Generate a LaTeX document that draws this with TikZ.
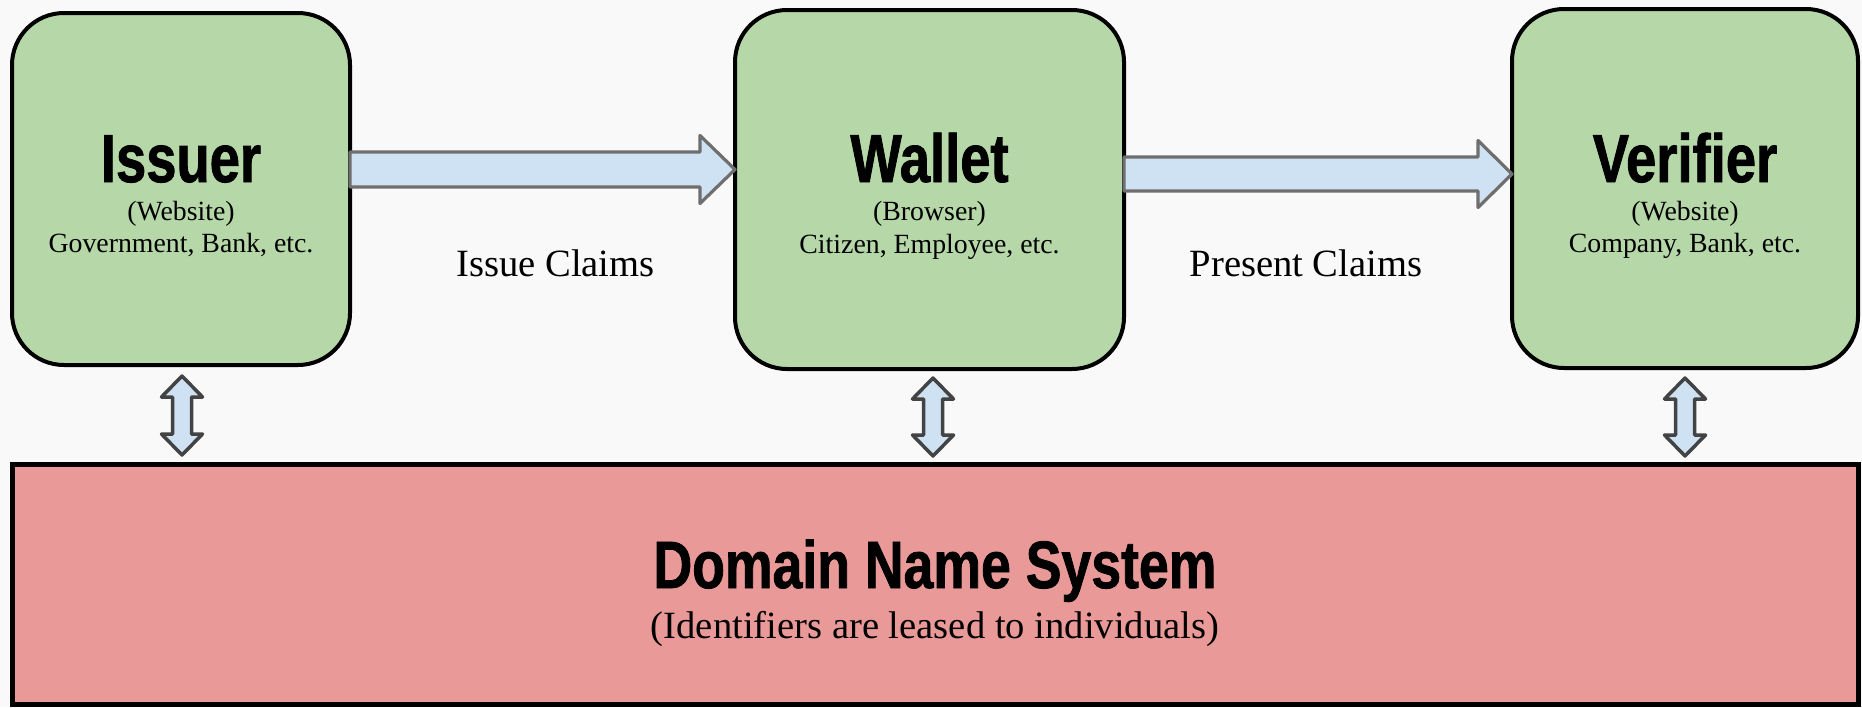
\documentclass[tikz,border=0pt]{standalone}
\usepackage{fontspec}
\usetikzlibrary{calc}
\setmainfont{Liberation Serif}
\newfontfamily\headfont{Liberation Sans}[FakeStretch=0.8, FakeBold=1.2]

\definecolor{pagebg}{HTML}{F9F9F9}
\definecolor{partyfill}{HTML}{B6D7A8}
\definecolor{dnsfill}{HTML}{EA9999}
\definecolor{flowfill}{HTML}{CFE2F3}
\definecolor{flowline}{HTML}{6E6E6E}
\definecolor{linkline}{HTML}{434343}

\tikzset{
  party/.style={draw=black, line width=2pt, fill=partyfill, rounded corners=26pt,
    outer sep=0pt, inner sep=0pt},
  registry/.style={draw=black, line width=2.5pt, fill=dnsfill, outer sep=0pt, inner sep=0pt},
  title/.style={anchor=base, inner sep=0pt, font=\headfont\bfseries\fontsize{34}{34}\selectfont},
  detail/.style={anchor=base, inner sep=0pt, font=\fontsize{13.9}{16}\selectfont},
  flowlabel/.style={anchor=base, inner sep=0pt, font=\fontsize{19.3}{22}\selectfont},
  flow/.style={draw=flowline, fill=flowfill, line width=1.6pt, line join=round},
  link/.style={draw=linkline, fill=flowfill, line width=1.75pt, line join=round},
}

% wide horizontal arrow from #1 to #2 (same height)
\newcommand\flowarrow[5]{% #1 start, #2 tip, #3 shaft half width, #4 head half width, #5 head length
  \draw[flow] let \p1=(#1), \p2=(#2) in
    (\x1,\y1+#3) -- (\x2-#5,\y1+#3) -- (\x2-#5,\y1+#4) -- (\x2,\y1)
    -- (\x2-#5,\y1-#4) -- (\x2-#5,\y1-#3) -- (\x1,\y1-#3) -- cycle;}

% vertical double arrow between an upper tip #1 and a lower tip #2
\newcommand\linkarrow[2]{%
  \draw[link] let \p1=(#1), \p2=(#2) in
    (\x1,\y1) -- (\x1+10.25pt,\y1-10.5pt) -- (\x1+4.75pt,\y1-10.5pt)
    -- (\x1+4.75pt,\y2+10.5pt) -- (\x1+10.25pt,\y2+10.5pt) -- (\x1,\y2)
    -- (\x1-10.25pt,\y2+10.5pt) -- (\x1-4.75pt,\y2+10.5pt)
    -- (\x1-4.75pt,\y1-10.5pt) -- (\x1-10.25pt,\y1-10.5pt) -- cycle;}

\begin{document}
\begin{tikzpicture}[x=0.5pt, y=-0.5pt]
  % canvas
  \fill[pagebg] (0,0) rectangle (1862,707);
  \useasboundingbox (0,0) rectangle (1862,707);

  % the three parties and the naming registry
  \node[party, minimum width=169pt, minimum height=176pt] (issuer) at (181,189) {};
  \node[party, minimum width=194.5pt, minimum height=179.5pt] (wallet) at (929.5,189.5) {};
  \node[party, minimum width=173pt, minimum height=179.5pt] (verifier) at (1685,188.5) {};
  \node[registry, minimum width=923pt, minimum height=120pt] (dns) at (935,584) {};

  % claim flows
  \coordinate (issueStart) at ($(issuer.east)+(0,-19.5)$);
  \coordinate (issueTip)   at ($(issuer.east -| wallet.west)+(0,-19.5)$);
  \flowarrow{issueStart}{issueTip}{8.75pt}{17pt}{17.5pt}
  \coordinate (presentStart) at ($(wallet.east)+(0,-15.5)$);
  \coordinate (presentTip)   at ($(wallet.east -| verifier.west)+(0,-15.5)$);
  \flowarrow{presentStart}{presentTip}{8.5pt}{16.75pt}{17pt}

  \node[flowlabel] (issueLabel) at (555.5,276) {Issue Claims};
  \node[flowlabel] (presentLabel) at (1306,276) {Present Claims};

  % links to the registry
  \coordinate (issuerUp)   at ($(issuer.south)+(1,11)$);
  \coordinate (issuerDown) at ($(issuer.south |- dns.north)+(1,-9)$);
  \linkarrow{issuerUp}{issuerDown}
  \coordinate (walletUp)   at ($(wallet.south)+(3.5,9)$);
  \coordinate (walletDown) at ($(wallet.south |- dns.north)+(3.5,-8)$);
  \linkarrow{walletUp}{walletDown}
  \coordinate (verifierUp)   at ($(verifier.south)+(0,10)$);
  \coordinate (verifierDown) at ($(verifier.south |- dns.north)+(0,-8)$);
  \linkarrow{verifierUp}{verifierDown}

  % texts
  \node[title] (issuerTitle) at (issuer.center |- 0,182) {Issuer};
  \node[detail] (issuerKind) at (issuer.center |- 0,220) {(Website)};
  \node[detail] (issuerWho)  at (issuer.center |- 0,252) {Government, Bank, etc.};

  \node[title] (walletTitle) at (wallet.center |- 0,182) {Wallet};
  \node[detail] (walletKind) at (wallet.center |- 0,220) {(Browser)};
  \node[detail] (walletWho)  at (wallet.center |- 0,253) {Citizen, Employee, etc.};

  \node[title] (verifierTitle) at (verifier.center |- 0,182) {Verifier};
  \node[detail] (verifierKind) at (verifier.center |- 0,220) {(Website)};
  \node[detail] (verifierWho)  at (verifier.center |- 0,252) {Company, Bank, etc.};

  \node[title, font=\headfont\bfseries\fontsize{33.5}{34}\selectfont] (dnsTitle)
    at (dns.center |- 0,588) {Domain Name System};
  \node[flowlabel] (dnsNote) at (dns.center |- 0,638) {(Identifiers are leased to individuals)};
\end{tikzpicture}
\end{document}
